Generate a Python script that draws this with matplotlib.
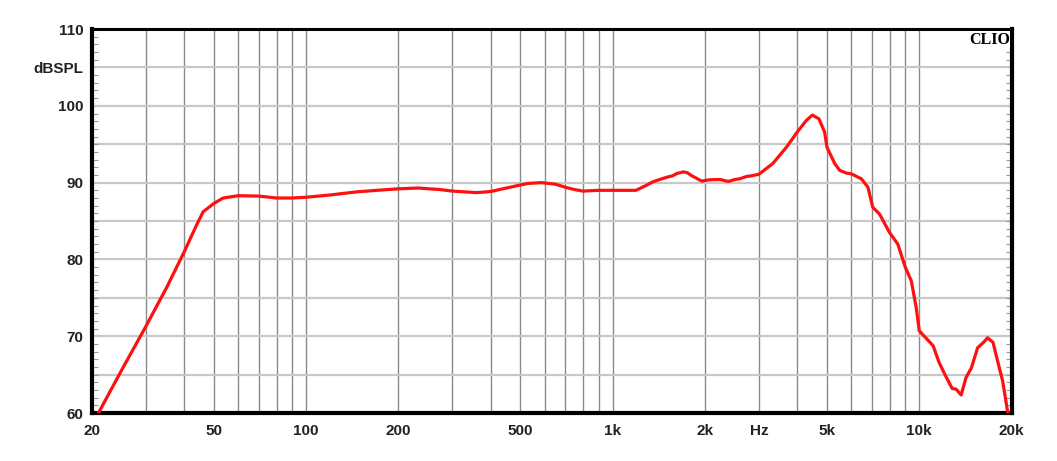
import numpy as np
import matplotlib
matplotlib.use('Agg')
import matplotlib.pyplot as plt
from matplotlib.ticker import FixedLocator, NullFormatter

# frequency response (Hz, dB SPL)
freq = [21.0, 25, 30, 35, 40, 43.9, 46.1, 50, 53.6, 60, 70, 80, 90, 100, 120,
        146, 170, 200, 232, 273, 300, 360, 400, 450, 500, 530, 585, 650, 700,
        750, 800, 900, 1000, 1100, 1190, 1280, 1350, 1420, 1500, 1570, 1620,
        1700, 1750, 1810, 1870, 1950, 2050, 2150, 2250, 2380, 2500, 2594, 2730,
        2850, 3000, 3330, 3684, 4000, 4281, 4480, 4707, 4910, 5000, 5296, 5500,
        5780, 6000, 6472, 6800, 7050, 7420, 8000, 8510, 9000, 9420, 9770,
        10000, 10500, 11100, 11600, 12200, 12800, 13200, 13700, 14200, 14800,
        15500, 16200, 16700, 17400, 17900, 18700, 19400, 19700]
spl = [60.0, 65.6, 71.3, 76.3, 81.0, 84.5, 86.2, 87.3, 88.0, 88.3, 88.25,
       88.0, 88.0, 88.1, 88.4, 88.8, 89.0, 89.2, 89.3, 89.1, 88.9, 88.7, 88.85,
       89.3, 89.7, 89.9, 90.0, 89.8, 89.4, 89.1, 88.9, 89.0, 89.0, 89.0, 89.0,
       89.6, 90.1, 90.4, 90.7, 90.9, 91.2, 91.4, 91.3, 90.9, 90.6, 90.2, 90.35,
       90.4, 90.4, 90.15, 90.4, 90.5, 90.8, 90.9, 91.1, 92.5, 94.6, 96.6, 98.1,
       98.8, 98.3, 96.6, 94.6, 92.5, 91.6, 91.25, 91.15, 90.5, 89.4, 86.8,
       85.9, 83.5, 82.0, 79.0, 77.2, 73.75, 70.7, 69.8, 68.75, 66.6, 64.8,
       63.2, 63.1, 62.35, 64.6, 65.9, 68.5, 69.2, 69.8, 69.2, 67.2, 64.2, 60.3,
       59.5]

xtick_pos = [20, 50, 100, 200, 500, 1000, 2000, 3000, 5000, 10000, 20000]
xtick_lab = ['20', '50', '100', '200', '500', '1k', '2k', 'Hz', '5k', '10k', '20k']
ytick_pos = [60, 70, 80, 90, 100, 105, 110]
ytick_lab = ['60', '70', '80', '90', '100', 'dBSPL', '110']

grid_x = [30, 40, 50, 60, 70, 80, 90, 100, 200, 300, 400, 500, 600, 700, 800,
          900, 1000, 2000, 3000, 4000, 5000, 6000, 7000, 8000, 9000, 10000]

fig = plt.figure(figsize=(10.57, 4.61), dpi=100)
ax = fig.add_axes([0.087, 0.104, 0.870, 0.833])

ax.set_xscale('log')
ax.set_xlim(20, 20000)
ax.set_ylim(60, 110)

# grid
for g in grid_x:
    ax.axvline(g, color='#8a8a8a', lw=1.0, zorder=1)
for h in np.arange(65, 110, 5):
    ax.axhline(h, color='#c8c8c8', lw=1.6, zorder=1)

ax.plot(freq, spl, color='#ff1010', lw=2.3, zorder=3,
        solid_joinstyle='round', solid_capstyle='round', clip_on=True)

ax.xaxis.set_major_locator(FixedLocator(xtick_pos))
ax.set_xticklabels(xtick_lab)
ax.xaxis.set_minor_locator(FixedLocator([]))
ax.xaxis.set_minor_formatter(NullFormatter())
ax.tick_params(axis='x', which='both', length=0, pad=8)

ax.set_yticks(ytick_pos)
ax.set_yticklabels(ytick_lab)
ax.set_yticks(np.arange(60, 111, 1), minor=True)
ax.tick_params(axis='y', which='major', length=0, pad=6)
ax.tick_params(axis='y', which='minor', direction='in', length=4, width=0.8,
               color='#999999', left=True, right=True)

for lab in ax.get_xticklabels() + ax.get_yticklabels():
    lab.set_fontsize(11)
    lab.set_color('#222222')
    lab.set_fontfamily('Liberation Sans')
    lab.set_fontweight('bold')

for side, w in [('left', 3), ('bottom', 3), ('right', 3), ('top', 2.2)]:
    ax.spines[side].set_linewidth(w)
    ax.spines[side].set_color('black')

ax.text(0.998, 0.993, 'CLIO', transform=ax.transAxes, ha='right', va='top',
        fontsize=11.5, fontweight='bold', family='Liberation Serif', zorder=5,
        bbox=dict(facecolor='white', edgecolor='none', pad=0.5))

fig.savefig('out.png', dpi=100, facecolor='white')
